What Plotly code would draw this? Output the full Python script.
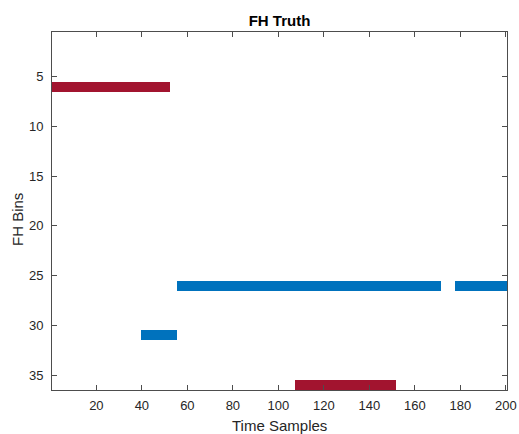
import plotly.graph_objects as go

# Frequency-hop truth: each hop occupies one bin over a run of time samples
hop_bins = [6, 31, 26, 26, 36]
hop_start = [1, 40, 56, 178, 108]
hop_end = [52, 55, 171, 200, 151]
hop_colors = ["#A2142F", "#0072BD", "#0072BD", "#0072BD", "#A2142F"]

x_ticks = [20, 40, 60, 80, 100, 120, 140, 160, 180, 200]
y_ticks = [5, 10, 15, 20, 25, 30, 35]

fig = go.Figure()
fig.add_trace(go.Bar(
    orientation="h",
    y=hop_bins,
    base=[s - 0.5 for s in hop_start],
    x=[e - s + 1 for s, e in zip(hop_start, hop_end)],
    width=1,
    marker=dict(color=hop_colors, line=dict(width=0)),
    showlegend=False,
    hoverinfo="skip",
))

axis_common = dict(
    showgrid=False, zeroline=False, showline=True, linecolor="#4d4d4d",
    linewidth=1, mirror="ticks", ticks="inside", ticklen=5,
    tickcolor="#4d4d4d", tickfont=dict(size=13, color="#262626"),
    automargin=False,
)

L, R, T, B = 52, 12, 32, 44
W, H = 519, 434
pw, ph = W - L - R, H - T - B

fig.update_layout(
    width=W, height=H,
    margin=dict(l=L, r=R, t=T, b=B),
    paper_bgcolor="white", plot_bgcolor="white",
    font=dict(family="Liberation Sans, Arial, sans-serif", color="#262626"),
    title=dict(text="<b>FH Truth</b>", x=0.5, xref="paper", y=1 - 20.5 / H,
               yanchor="middle", font=dict(size=15, color="#000000")),
    xaxis=dict(range=[0.5, 200.5], tickvals=x_ticks, ticklabelstandoff=3,
               **axis_common),
    yaxis=dict(range=[36.5, 0.5], tickvals=y_ticks, ticklabelstandoff=5,
               **axis_common),
    bargap=0,
    annotations=[
        dict(text="Time Samples", xref="paper", yref="paper",
             x=0.5, y=(390 - 425) / ph, xanchor="center", yanchor="middle",
             showarrow=False, font=dict(size=15, color="#262626")),
        dict(text="FH Bins", xref="paper", yref="paper", textangle=-90,
             x=(17 - L) / pw, y=(390 - 220) / ph, xanchor="center",
             yanchor="middle", showarrow=False,
             font=dict(size=15, color="#262626")),
    ],
)

fig.write_html("out.html")
